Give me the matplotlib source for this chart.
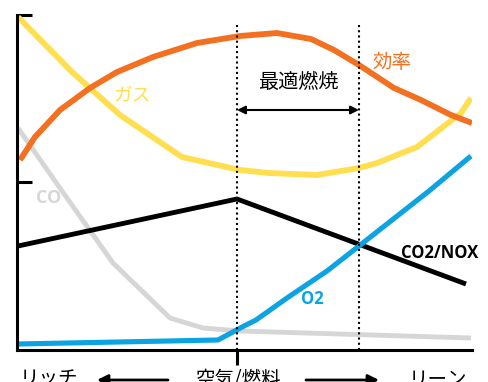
import numpy as np
import matplotlib.pyplot as plt

plt.rcParams['font.family'] = ['Noto Sans CJK JP', 'DejaVu Sans']

# curves (arbitrary units, x = air/fuel, y = level)
gas_x = [1, 55, 103, 165, 223, 252, 300, 342, 360, 400, 444, 454]
gas_y = [333, 278, 235, 193, 180, 177, 175, 182, 187, 203, 237, 252]

eff_x = [3, 18, 43, 73, 100, 136, 180, 223, 260, 294, 317, 342, 377, 404, 434, 455]
eff_y = [190, 213, 240, 262, 278, 293, 307, 314, 317, 311, 300, 285, 262, 250, 235, 227]

co_x = [1, 45, 96, 153, 186, 223, 454]
co_y = [222, 159, 87, 32, 22, 19, 12]

co2_x = [1, 220, 449]
co2_y = [104, 151, 66]

o2_x = [1, 201, 227, 239, 270, 310, 342, 412, 454]
o2_y = [6, 10, 24, 30, 52, 79, 104, 159, 194]

stoich = 220
best_end = 342

c_orange = '#f37021'
c_yellow = '#ffdf4f'
c_blue = '#0ba3e2'
c_gray = '#d6d6d6'

fig = plt.figure(figsize=(4.88, 3.82), dpi=100)
ax = fig.add_axes([17/488, 32/382, 455/488, 335/382])
ax.set_xlim(0, 455)
ax.set_ylim(0, 335)

ax.plot(co_x, co_y, color=c_gray, lw=3.5, solid_capstyle='butt')
ax.plot(co2_x, co2_y, color='black', lw=3.5, solid_capstyle='butt')
ax.plot(o2_x, o2_y, color=c_blue, lw=3.7, solid_capstyle='butt')
ax.plot(gas_x, gas_y, color=c_yellow, lw=4.2, solid_capstyle='butt')
ax.plot(eff_x, eff_y, color=c_orange, lw=4.2, solid_capstyle='butt')

for xv in (stoich, best_end):
    ax.plot([xv, xv], [0, 327], color='black', ls=(0, (1, 1.5)), lw=1.5)

ax.annotate('', xy=(stoich, 240), xytext=(best_end, 240),
            arrowprops=dict(arrowstyle='<|-|>', color='black', lw=1.5,
                            mutation_scale=12, shrinkA=0, shrinkB=0))
ax.text(281, 267, '最適燃焼', fontsize=14.5, ha='center', va='center')
ax.text(115, 254, 'ガス', fontsize=13.5, color=c_yellow, ha='center', va='center')
ax.text(375, 288, '効率', fontsize=14, color=c_orange, ha='center', va='center')
ax.text(32, 152, 'CO', fontsize=13, color=c_gray, fontweight='bold',
        family='Open Sans', ha='center', va='center')
ax.text(384, 97, 'CO2/NOX', fontsize=12, fontweight='bold',
        family='Open Sans', ha='left', va='center')
ax.text(295, 51, 'O2', fontsize=12, color=c_blue, fontweight='bold',
        family='Open Sans', ha='center', va='center')

# bottom labels and arrows (cut by the lower edge, as in the source)
ax.text(32, -19, 'リッチ', fontsize=14, ha='center', va='top')
ax.text(222, -19, '空気/燃料', fontsize=14, ha='center', va='top')
ax.text(421, -19, 'リーン', fontsize=14, ha='center', va='top')
ax.annotate('', xy=(80, -30), xytext=(151, -30), annotation_clip=False,
            arrowprops=dict(arrowstyle='-|>', color='black', lw=2,
                            mutation_scale=16, shrinkA=0, shrinkB=0))
ax.annotate('', xy=(362, -30), xytext=(289, -30), annotation_clip=False,
            arrowprops=dict(arrowstyle='-|>', color='black', lw=2,
                            mutation_scale=16, shrinkA=0, shrinkB=0))

for s in ('top', 'right'):
    ax.spines[s].set_visible(False)
for s in ('left', 'bottom'):
    ax.spines[s].set_linewidth(2.2)
ax.set_yticks([168, 335])
ax.set_xticks([stoich])
ax.tick_params(axis='y', direction='in', length=11, width=2.2, labelleft=False)
ax.tick_params(axis='x', direction='out', length=11, width=2.2, labelbottom=False)

fig.savefig('out.png', dpi=100)
